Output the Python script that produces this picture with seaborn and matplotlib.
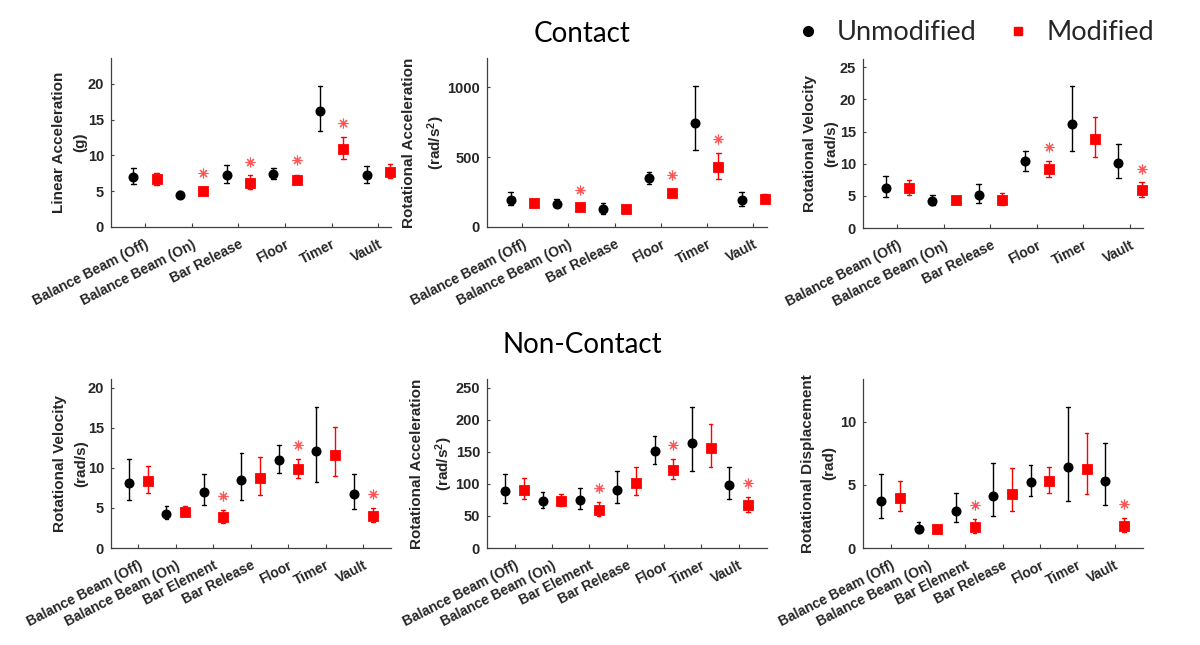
import numpy as np
import pandas as pd
import matplotlib
matplotlib.use("Agg")
import matplotlib.pyplot as plt
from matplotlib.lines import Line2D
from matplotlib.transforms import ScaledTranslation
import seaborn as sns

# ---------------- data ----------------
groups = ["Unmodified", "Modified"]

cats_contact = ["Balance Beam (Off)", "Balance Beam (On)", "Bar Release", "Floor", "Timer", "Vault"]
cats_noncontact = ["Balance Beam (Off)", "Balance Beam (On)", "Bar Element", "Bar Release",
                   "Floor", "Timer", "Vault"]

# Contact - Linear Acceleration (g)
lin_u = [7.0, 4.45, 7.25, 7.35, 16.15, 7.25]
lin_u_lo = [5.95, 4.0, 6.1, 6.65, 13.35, 6.1]
lin_u_hi = [8.3, 5.0, 8.7, 8.2, 19.75, 8.5]
lin_m = [6.65, 5.05, 6.2, 6.55, 10.9, 7.7]
lin_m_lo = [5.85, 4.6, 5.3, 6.0, 9.45, 6.8]
lin_m_hi = [7.5, 5.6, 7.2, 7.25, 12.6, 8.75]
lin_star = [None, 7.6, 9.1, 9.3, 14.5, None]

# Contact - Rotational Acceleration (rad/s^2)
racc_c_u = [196, 167, 131, 348, 747, 196]
racc_c_u_lo = [155, 141, 95, 305, 551, 153]
racc_c_u_hi = [251, 200, 172, 394, 1012, 251]
racc_c_m = [169, 143, 131, 241, 427, 198]
racc_c_m_lo = [148, 129, 107, 220, 346, 169]
racc_c_m_hi = [200, 158, 160, 267, 527, 239]
racc_c_star = [None, 263, None, 372, 630, None]

# Contact - Rotational Velocity (rad/s)
rvel_c_u = [6.2, 4.2, 5.15, 10.35, 16.2, 10.1]
rvel_c_u_lo = [4.85, 3.55, 3.95, 8.9, 11.95, 7.8]
rvel_c_u_hi = [8.05, 5.15, 6.8, 12.05, 22.1, 13.0]
rvel_c_m = [6.2, 4.3, 4.3, 9.15, 13.9, 5.95]
rvel_c_m_lo = [5.2, 3.75, 3.55, 7.95, 11.1, 4.9]
rvel_c_m_hi = [7.4, 5.0, 5.45, 10.5, 17.25, 7.1]
rvel_c_star = [None, None, None, 12.6, None, 9.25]

# Non-Contact - Rotational Velocity (rad/s)
rvel_n_u = [8.1, 4.3, 7.05, 8.45, 11.0, 12.05, 6.75]
rvel_n_u_lo = [5.95, 3.65, 5.4, 6.0, 9.4, 8.2, 4.9]
rvel_n_u_hi = [11.1, 5.2, 9.2, 11.8, 12.85, 17.6, 9.2]
rvel_n_m = [8.35, 4.55, 3.85, 8.7, 9.85, 11.65, 4.0]
rvel_n_m_lo = [6.85, 3.95, 3.15, 6.65, 8.75, 8.95, 3.3]
rvel_n_m_hi = [10.3, 5.3, 4.7, 11.4, 11.15, 15.15, 4.95]
rvel_n_star = [None, None, 6.45, None, 12.9, None, 6.8]

# Non-Contact - Rotational Acceleration (rad/s^2)
racc_n_u = [89.5, 73.5, 75.5, 91, 151.5, 163.5, 98.5]
racc_n_u_lo = [70, 62.5, 61, 70, 132, 121, 76.5]
racc_n_u_hi = [115, 87, 94, 120, 175, 220, 126]
racc_n_m = [91, 73.5, 59.5, 101.5, 122.5, 156, 67]
racc_n_m_lo = [76.5, 65, 50.5, 82.5, 108.5, 127, 56]
racc_n_m_hi = [109, 84.5, 71.5, 126.5, 139, 193, 80]
racc_n_star = [None, None, 93, None, 161, None, 102]

# Non-Contact - Rotational Displacement (rad)
rdis_u = [3.75, 1.5, 2.95, 4.1, 5.2, 6.45, 5.3]
rdis_u_lo = [2.35, 1.15, 2.05, 2.5, 4.1, 3.7, 3.4]
rdis_u_hi = [5.85, 2.05, 4.35, 6.75, 6.6, 11.15, 8.35]
rdis_m = [3.95, 1.5, 1.65, 4.3, 5.3, 6.25, 1.75]
rdis_m_lo = [2.9, 1.2, 1.2, 2.95, 4.35, 4.3, 1.25]
rdis_m_hi = [5.35, 1.85, 2.3, 6.35, 6.45, 9.1, 2.35]
rdis_star = [None, None, 3.4, None, None, None, 3.5]

# ---------------- style ----------------
sns.set_theme(style="white")
plt.rcParams["font.family"] = ["Liberation Sans", "DejaVu Sans"]
plt.rcParams["mathtext.fontset"] = "custom"
plt.rcParams["mathtext.rm"] = "Liberation Sans:bold"
plt.rcParams["mathtext.it"] = "Liberation Sans:bold"
plt.rcParams["mathtext.bf"] = "Liberation Sans:bold"
plt.rcParams["mathtext.default"] = "bf"

TXT = "#262626"
RED = "#ff0000"
STAR = "#ff5555"

panels = [
    dict(cats=cats_contact, u=lin_u, ulo=lin_u_lo, uhi=lin_u_hi, m=lin_m, mlo=lin_m_lo, mhi=lin_m_hi,
         star=lin_star, ylabel="Linear Acceleration\n(g)", ylim=23.6, yticks=[0, 5, 10, 15, 20],
         pos=(111, 58), xl=(-0.73, 5.27), ygap=24),
    dict(cats=cats_contact, u=racc_c_u, ulo=racc_c_u_lo, uhi=racc_c_u_hi, m=racc_c_m, mlo=racc_c_m_lo,
         mhi=racc_c_m_hi, star=racc_c_star, ylabel="Rotational Acceleration\n(rad/s$^{2}$)", ylim=1210,
         yticks=[0, 500, 1000], pos=(487, 58), xl=(-0.76, 5.3), ygap=40),
    dict(cats=cats_contact, u=rvel_c_u, ulo=rvel_c_u_lo, uhi=rvel_c_u_hi, m=rvel_c_m, mlo=rvel_c_m_lo,
         mhi=rvel_c_m_hi, star=rvel_c_star, ylabel="Rotational Velocity\n(rad/s)", ylim=26.3,
         yticks=[0, 5, 10, 15, 20, 25], pos=(863, 59), xl=(-0.74, 5.28), ygap=25),
    dict(cats=cats_noncontact, u=rvel_n_u, ulo=rvel_n_u_lo, uhi=rvel_n_u_hi, m=rvel_n_m, mlo=rvel_n_m_lo,
         mhi=rvel_n_m_hi, star=rvel_n_star, ylabel="Rotational Velocity\n(rad/s)", ylim=21.1,
         yticks=[0, 5, 10, 15, 20], pos=(111, 379), xl=(-0.73, 6.74), ygap=23),
    dict(cats=cats_noncontact, u=racc_n_u, ulo=racc_n_u_lo, uhi=racc_n_u_hi, m=racc_n_m, mlo=racc_n_m_lo,
         mhi=racc_n_m_hi, star=racc_n_star, ylabel="Rotational Acceleration\n(rad/s$^{2}$)", ylim=264,
         yticks=[0, 50, 100, 150, 200, 250], pos=(487, 379), xl=(-0.74, 6.76), ygap=32),
    dict(cats=cats_noncontact, u=rdis_u, ulo=rdis_u_lo, uhi=rdis_u_hi, m=rdis_m, mlo=rdis_m_lo,
         mhi=rdis_m_hi, star=rdis_star, ylabel="Rotational Displacement\n(rad)", ylim=13.4,
         yticks=[0, 5, 10], pos=(863, 379), xl=(-0.74, 6.76), ygap=27),
]

W, H = 1200, 645
fig = plt.figure(figsize=(12, 6.45), dpi=100)

AW, AH = 280, 169
label_shift = ScaledTranslation(6 / 100, 0, fig.dpi_scale_trans)

for p in panels:
    x0, y0 = p["pos"]
    ax = fig.add_axes([x0 / W, 1 - (y0 + AH) / H, AW / W, AH / H])
    rows = []
    for i, c in enumerate(p["cats"]):
        for g, (lo, mid, hi) in zip(groups, [(p["ulo"][i], p["u"][i], p["uhi"][i]),
                                              (p["mlo"][i], p["m"][i], p["mhi"][i])]):
            for v in (lo, mid, hi):
                rows.append(dict(cat=c, group=g, val=v))
    df = pd.DataFrame(rows)
    sns.pointplot(data=df, x="cat", y="val", hue="group", order=p["cats"], hue_order=groups,
                  palette={"Unmodified": "black", "Modified": RED}, markers=["o", "s"],
                  linestyle="none", dodge=0.5, estimator="median",
                  errorbar=lambda v: (np.min(v), np.max(v)), capsize=0.1,
                  err_kws={"linewidth": 1.0}, markersize=5.2, ax=ax, legend=False)
    idx = np.arange(len(p["cats"]))
    sx = [i + 0.25 for i, s in zip(idx, p["star"]) if s is not None]
    sy = [s for s in p["star"] if s is not None]
    ax.plot(sx, sy, linestyle="none", marker=(8, 2, 0), markersize=7, color=STAR,
            markeredgewidth=0.8)
    for art in list(ax.lines) + list(ax.collections):
        art.set_clip_on(False)
    ax.set_xlim(*p["xl"])
    ax.set_ylim(0, p["ylim"])
    ax.set_yticks(p["yticks"])
    ax.set_xticks(idx)
    ax.set_xticklabels(p["cats"], rotation=27, ha="right", va="top", rotation_mode="anchor",
                       fontsize=10, fontweight="bold", color=TXT)
    for lab in ax.get_xticklabels():
        lab.set_transform(lab.get_transform() + label_shift)
    for lab in ax.get_yticklabels():
        lab.set_fontsize(10.5)
        lab.set_fontweight("bold")
        lab.set_color(TXT)
    ax.set_xlabel("")
    ax.set_ylabel(p["ylabel"], fontsize=11, fontweight="bold", color=TXT, linespacing=1.6)
    ax.yaxis.set_label_coords(-p["ygap"] / AW, 0.5)
    sns.despine(ax=ax)
    for s in ("left", "bottom"):
        ax.spines[s].set_color("#404040")
        ax.spines[s].set_linewidth(0.9)
    ax.tick_params(axis="x", direction="in", length=3, width=0.8, color="#404040", pad=7.5, bottom=True)
    ax.tick_params(axis="y", direction="in", length=2, width=0.8, color="#404040", pad=5, left=True)

fig.text(582 / W, 1 - 42 / H, "Contact", ha="center", va="baseline", fontsize=20,
         family=["Lato", "DejaVu Sans"], color="black")
fig.text(582 / W, 1 - 353 / H, "Non-Contact", ha="center", va="baseline", fontsize=20,
         family=["Lato", "DejaVu Sans"], color="black")

handles = [Line2D([], [], linestyle="none", marker="o", color="black", markersize=7),
           Line2D([], [], linestyle="none", marker="s", color=RED, markersize=6)]
fig.legend(handles, groups, loc="center", bbox_to_anchor=(977 / W, 1 - 33 / H), ncol=2,
           frameon=False, prop={"family": ["Lato", "DejaVu Sans"], "size": 19.5},
           handlelength=0.6, handletextpad=0.75, columnspacing=1.25, borderaxespad=0)

fig.savefig("out.png", dpi=100, facecolor="white")
